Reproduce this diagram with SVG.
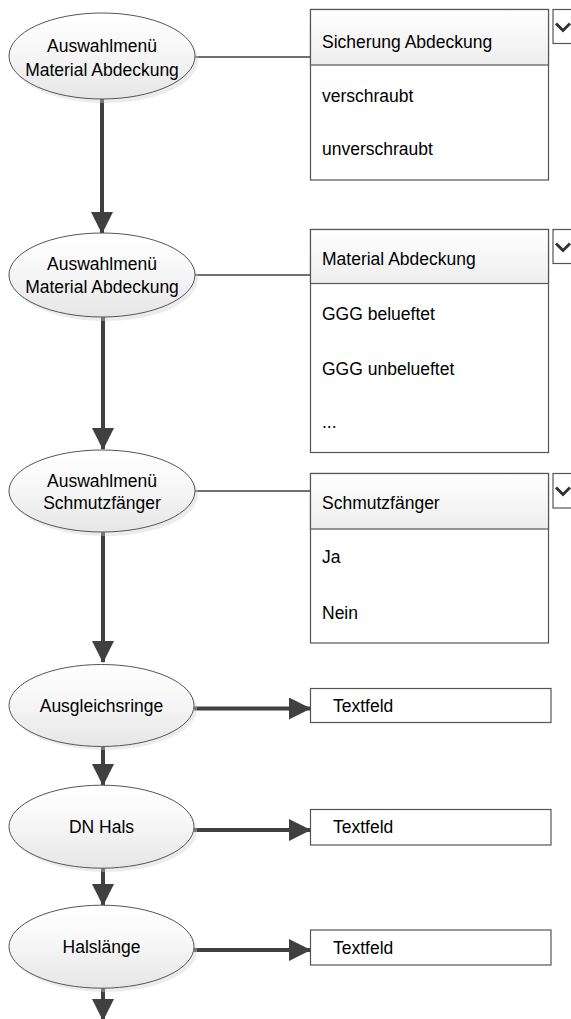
<svg xmlns="http://www.w3.org/2000/svg" width="571" height="1019" viewBox="0 0 571 1019">
<style>
  .lbl { font-family: "Liberation Sans", Arial, sans-serif; font-size: 17.5px; fill: #000; }
  .ell { fill: url(#ellGrad); stroke: #555; stroke-width: 1; }
  .shadow { fill: #d0d0d0; opacity: 0.4; }
  .box { fill: #fff; stroke: #555; stroke-width: 1.2; }
  .hdr { fill: url(#hdrGrad); stroke: #555; stroke-width: 1.2; }
  .btn { fill: #fff; stroke: #555; stroke-width: 1.2; }
  .chev { fill: none; stroke: #333; stroke-width: 3; }
  .thin { stroke: #404040; stroke-width: 1.3; fill: none; }
  .flow { stroke: #404040; stroke-width: 4; fill: none; marker-end: url(#arr); }
</style>
<defs>
  <linearGradient id="ellGrad" x1="0" y1="0" x2="0" y2="1">
    <stop offset="0" stop-color="#ffffff"/>
    <stop offset="0.4" stop-color="#f8f8f8"/>
    <stop offset="1" stop-color="#e6e6e6"/>
  </linearGradient>
  <linearGradient id="hdrGrad" x1="0" y1="0" x2="0" y2="1">
    <stop offset="0" stop-color="#ffffff"/>
    <stop offset="1" stop-color="#eeeeee"/>
  </linearGradient>
  <marker id="arr" markerUnits="userSpaceOnUse" markerWidth="22" markerHeight="22" refX="21" refY="11" orient="auto">
    <path d="M0,0 L22,11 L0,22 z" fill="#404040"/>
  </marker>
</defs>

<g id="connectors">
  <line class="thin" x1="195" y1="57" x2="310.5" y2="57"/>
  <line class="thin" x1="195" y1="275" x2="310.5" y2="275"/>
  <line class="thin" x1="195" y1="491" x2="310.5" y2="491"/>
  <line class="flow" x1="102" y1="99" x2="102" y2="233"/>
  <line class="flow" x1="103" y1="317" x2="103" y2="449"/>
  <line class="flow" x1="103" y1="532" x2="103" y2="662"/>
  <line class="flow" x1="103" y1="747" x2="103" y2="785"/>
  <line class="flow" x1="103" y1="868" x2="103" y2="905"/>
  <line class="flow" x1="103" y1="988" x2="103" y2="1020"/>
  <line class="flow" x1="194" y1="708.5" x2="310" y2="708.5"/>
  <line class="flow" x1="194" y1="830" x2="310" y2="830"/>
  <line class="flow" x1="194" y1="950" x2="310" y2="950"/>
</g>

<g id="node-e1">
  <ellipse class="shadow" cx="105" cy="60" rx="93" ry="43"/>
  <ellipse class="ell" cx="102" cy="56" rx="93" ry="43"/>
  <text class="lbl" x="102" y="52" text-anchor="middle">Auswahlmenü</text>
  <text class="lbl" x="102" y="76" text-anchor="middle">Material Abdeckung</text>
</g>
<g id="node-e2">
  <ellipse class="shadow" cx="105" cy="279" rx="93" ry="42"/>
  <ellipse class="ell" cx="102" cy="275" rx="93" ry="42"/>
  <text class="lbl" x="102" y="270" text-anchor="middle">Auswahlmenü</text>
  <text class="lbl" x="102" y="293" text-anchor="middle">Material Abdeckung</text>
</g>
<g id="node-e3">
  <ellipse class="shadow" cx="105" cy="495" rx="93" ry="41"/>
  <ellipse class="ell" cx="102" cy="491" rx="93" ry="41"/>
  <text class="lbl" x="102" y="487" text-anchor="middle">Auswahlmenü</text>
  <text class="lbl" x="102" y="509" text-anchor="middle">Schmutzfänger</text>
</g>
<g id="node-e4">
  <ellipse class="shadow" cx="104.5" cy="709" rx="92.5" ry="41"/>
  <ellipse class="ell" cx="101.5" cy="705.5" rx="92.5" ry="41"/>
  <text class="lbl" x="101.5" y="711.5" text-anchor="middle">Ausgleichsringe</text>
</g>
<g id="node-e5">
  <ellipse class="shadow" cx="104.5" cy="830.5" rx="92.5" ry="41.5"/>
  <ellipse class="ell" cx="101.5" cy="826.7" rx="92.5" ry="41.5"/>
  <text class="lbl" x="101.5" y="833" text-anchor="middle">DN Hals</text>
</g>
<g id="node-e6">
  <ellipse class="shadow" cx="104.5" cy="950.5" rx="92.5" ry="41.5"/>
  <ellipse class="ell" cx="101.5" cy="946.7" rx="92.5" ry="41.5"/>
  <text class="lbl" x="101.5" y="953" text-anchor="middle">Halslänge</text>
</g>

<g id="node-dd1">
  <rect class="box" x="310.5" y="9.5" width="238" height="170.5"/>
  <rect class="hdr" x="310.5" y="9.5" width="238" height="55.5"/>
  <text class="lbl" x="322" y="48">Sicherung Abdeckung</text>
  <text class="lbl" x="322" y="101.5">verschraubt</text>
  <text class="lbl" x="322" y="155">unverschraubt</text>
  <rect class="btn" x="553" y="9.5" width="30" height="34"/>
  <polyline class="chev" points="556,23.5 563,30.5 570,23.5"/>
</g>
<g id="node-dd2">
  <rect class="box" x="310.5" y="229.5" width="238" height="223"/>
  <rect class="hdr" x="310.5" y="229.5" width="238" height="54"/>
  <text class="lbl" x="322" y="265">Material Abdeckung</text>
  <text class="lbl" x="322" y="320">GGG belueftet</text>
  <text class="lbl" x="322" y="375">GGG unbelueftet</text>
  <text class="lbl" x="322" y="428">...</text>
  <rect class="btn" x="553" y="229.5" width="30" height="34"/>
  <polyline class="chev" points="556,243.5 563,250.5 570,243.5"/>
</g>
<g id="node-dd3">
  <rect class="box" x="310.5" y="473.5" width="238" height="169.5"/>
  <rect class="hdr" x="310.5" y="473.5" width="238" height="55.5"/>
  <text class="lbl" x="322" y="509">Schmutzfänger</text>
  <text class="lbl" x="322" y="563">Ja</text>
  <text class="lbl" x="322" y="619">Nein</text>
  <rect class="btn" x="553" y="473.5" width="30" height="34.5"/>
  <polyline class="chev" points="556,487.5 563,494.5 570,487.5"/>
</g>

<g id="node-t1">
  <rect class="box" x="310.5" y="688.5" width="240.5" height="34"/>
  <text class="lbl" x="333" y="711.5">Textfeld</text>
</g>
<g id="node-t2">
  <rect class="box" x="310.5" y="809.5" width="240.5" height="35.5"/>
  <text class="lbl" x="333" y="833">Textfeld</text>
</g>
<g id="node-t3">
  <rect class="box" x="310.5" y="930" width="240.5" height="35"/>
  <text class="lbl" x="333" y="953.5">Textfeld</text>
</g>
</svg>
